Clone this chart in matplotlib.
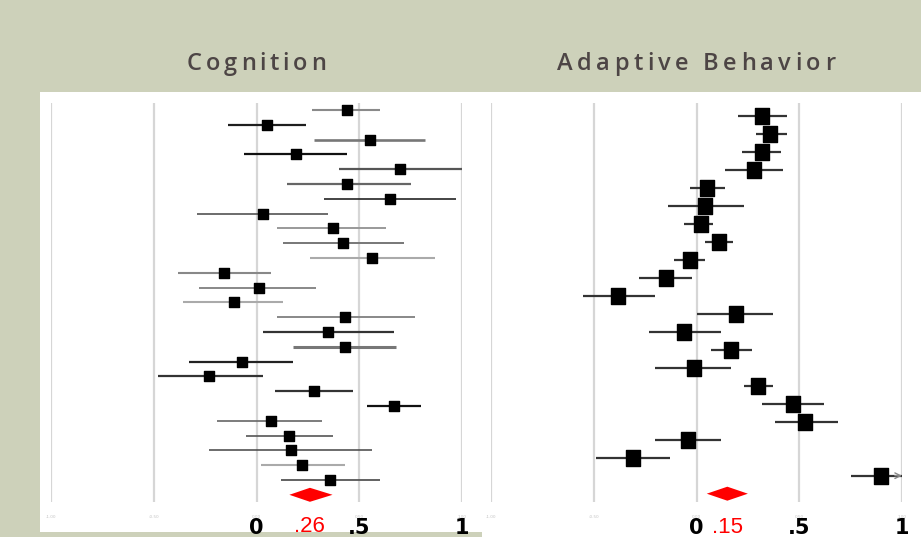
import matplotlib
matplotlib.use("Agg")
import matplotlib.pyplot as plt
from matplotlib.path import Path
from matplotlib.patches import Rectangle
from matplotlib import transforms
from matplotlib.font_manager import FontProperties

# ---------------- data ----------------
titles = ["Cognition", "Adaptive Behavior"]

cog_est = [0.44, 0.05, 0.55, 0.19, 0.70, 0.44, 0.65, 0.03, 0.37, 0.42, 0.56, -0.16, 0.01,
           -0.11, 0.43, 0.35, 0.43, -0.07, -0.23, 0.28, 0.67, 0.07, 0.16, 0.17, 0.22, 0.36]
cog_lo = [0.27, -0.14, 0.28, -0.06, 0.40, 0.15, 0.33, -0.29, 0.10, 0.13, 0.26, -0.38, -0.28,
          -0.36, 0.10, 0.03, 0.18, -0.33, -0.48, 0.09, 0.54, -0.19, -0.05, -0.23, 0.02, 0.12]
cog_hi = [0.60, 0.24, 0.82, 0.44, 1.00, 0.75, 0.97, 0.35, 0.63, 0.72, 0.87, 0.07, 0.29,
          0.13, 0.77, 0.67, 0.68, 0.18, 0.03, 0.47, 0.80, 0.32, 0.37, 0.56, 0.43, 0.60]
cog_pooled = 0.26
cog_pooled_lo = 0.16
cog_pooled_hi = 0.37

ab_est = [0.32, 0.36, 0.32, 0.28, 0.05, 0.04, 0.02, 0.11, -0.03, -0.15, -0.38, 0.19, -0.06,
          0.17, -0.01, 0.30, 0.47, 0.53, -0.04, -0.31, 0.90]
ab_lo = [0.20, 0.29, 0.22, 0.14, -0.03, -0.14, -0.06, 0.04, -0.11, -0.28, -0.55, 0.00, -0.23,
         0.07, -0.20, 0.23, 0.32, 0.38, -0.20, -0.49, 0.75]
ab_hi = [0.44, 0.44, 0.41, 0.42, 0.14, 0.23, 0.08, 0.18, 0.04, -0.02, -0.20, 0.37, 0.12,
         0.27, 0.17, 0.37, 0.62, 0.69, 0.12, -0.13, 1.05]
ab_pooled = 0.15
ab_pooled_lo = 0.05
ab_pooled_hi = 0.25

grid_values = [-1.0, -0.5, 0.0, 0.5, 1.0]
small_tick_labels = ["-1.00", "-0.50", "0.00", "0.50", "1.00"]
big_tick_values = [0.0, 0.5, 1.0]
big_tick_labels = ["0", ".5", "1"]

# ---------------- styles ----------------
cog_line_colors = ['#8a8a8a', '#1e1e1e', '#777777', '#111111', '#555555', '#666666', '#111111',
                   '#444444', '#999999', '#777777', '#aaaaaa', '#888888', '#888888', '#aaaaaa',
                   '#888888', '#333333', '#777777', '#222222', '#333333', '#333333', '#111111',
                   '#666666', '#555555', '#444444', '#aaaaaa', '#555555']
cog_line_widths = [1.5, 1.6, 1.9, 1.6, 1.6, 1.6, 1.1, 1.1, 1.4, 1.4, 1.5, 1.5, 1.4, 1.5, 1.4,
                   1.6, 2.2, 1.6, 1.6, 1.6, 1.6, 1.2, 1.2, 1.1, 1.5, 1.3]

BG = '#cdd1ba'
TITLE_C = '#4d4545'
GRID_C = '#d6d6d6'

W, H = 921, 537
fig = plt.figure(figsize=(W / 100, H / 100), dpi=100)
fig.patch.set_facecolor(BG)


def fx(px):
    return px / W


def fy(py):
    return 1 - py / H


# background axes holding the white panel
bg = fig.add_axes([0, 0, 1, 1], zorder=-10)
bg.set_xlim(0, W)
bg.set_ylim(H, 0)
bg.axis('off')
bg.patch.set_alpha(0)
bg.add_patch(Rectangle((40, 92), W - 40, 532 - 92, facecolor='white', edgecolor='none'))
bg.add_patch(Rectangle((482, 531), W - 482, H - 531, facecolor='white', edgecolor='none'))

rect_marker = Path([(-0.42, -0.5), (0.42, -0.5), (0.42, 0.5), (-0.42, 0.5), (-0.42, -0.5)],
                   [Path.MOVETO, Path.LINETO, Path.LINETO, Path.LINETO, Path.CLOSEPOLY])


def forest(ax_px, row_top, row_step, est, lo, hi, colors, widths, ms, pooled, plo, phi,
           pooled_label, red_base):
    x0, x1 = ax_px
    ytop, ybot = 103, 502
    ax = fig.add_axes([fx(x0), fy(ybot), fx(x1) - fx(x0), fy(ytop) - fy(ybot)], zorder=1)
    ax.set_xlim(-1, 1)
    ax.set_ylim((ybot - row_top) / row_step, (ytop - row_top) / row_step)
    ax.axis('off')
    ax.patch.set_alpha(0)
    for v in grid_values:
        ax.axvline(v, color=GRID_C, lw=1.6, zorder=1)
    n = len(est)
    for i in range(n):
        h = min(hi[i], 1.0)
        ax.plot([lo[i], h], [i, i], color=colors[i], lw=widths[i], solid_capstyle='butt',
                zorder=2, clip_on=False)
        if hi[i] > 1.0:
            ax.annotate('', xy=(1.0, i), xytext=(0.965, i),
                        arrowprops=dict(arrowstyle='->', color='#888888', lw=1.0,
                                        shrinkA=0, shrinkB=0), zorder=2)
        ax.plot([est[i]], [i], marker=rect_marker, ms=ms, color='black', mec='black',
                linestyle='none', zorder=3, clip_on=False)
    hh = 7.0 / row_step
    ax.fill([plo, pooled, phi, pooled], [n, n - hh, n, n + hh], color='#ff0000',
            edgecolor='none', zorder=3, clip_on=False)

    tr = transforms.blended_transform_factory(ax.transData, fig.transFigure)
    for v, s in zip(grid_values, small_tick_labels):
        ax.text(v, fy(517), s, transform=tr, fontsize=3, color='#c4c4c4',
                ha='center', va='center', zorder=1, clip_on=False)
    for v, s in zip(big_tick_values, big_tick_labels):
        ax.text(v, fy(534), s, transform=tr, fontsize=15, color='black',
                family='DejaVu Sans', weight='bold', ha='center', va='baseline', zorder=5,
                clip_on=False)
    ax.text(pooled, fy(red_base), pooled_label, transform=tr, fontsize=16, color='#ff0000',
            family='Liberation Sans', ha='center', va='baseline', zorder=5, clip_on=False)
    return ax


forest((51, 462), 110, 14.8, cog_est, cog_lo, cog_hi, cog_line_colors, cog_line_widths, 7.8,
       cog_pooled, cog_pooled_lo, cog_pooled_hi, ".26", 532.0)
forest((491, 902), 115.7, 18.0, ab_est, ab_lo, ab_hi, ['#333333'] * len(ab_est),
       [1.6] * len(ab_est), 11.6, ab_pooled, ab_pooled_lo, ab_pooled_hi, ".15", 533.0)

# letter-spaced titles
renderer = fig.canvas.get_renderer()
fp = FontProperties(family=['Open Sans', 'DejaVu Sans'], weight='semibold', size=17)


def tw(s):
    return renderer.get_text_width_height_descent(s, fp, ismath=False)[0]


def spaced_title(s, cx, base_py, target_w):
    bar = tw("||")
    adv = [0.0] + [tw("|" + s[:k] + "|") - bar for k in range(1, len(s) + 1)]
    total = adv[-1]
    track = (target_w - total) / (len(s) - 1)
    left = cx - target_w / 2
    for k, ch in enumerate(s):
        if ch == ' ':
            continue
        fig.text(fx(left + adv[k] + k * track), fy(base_py), ch, fontproperties=fp,
                 color=TITLE_C, ha='left', va='baseline')


spaced_title(titles[0], 256.5, 70, 139)
spaced_title(titles[1], 696, 70, 278)

fig.savefig('out.png', dpi=100, facecolor=BG)
